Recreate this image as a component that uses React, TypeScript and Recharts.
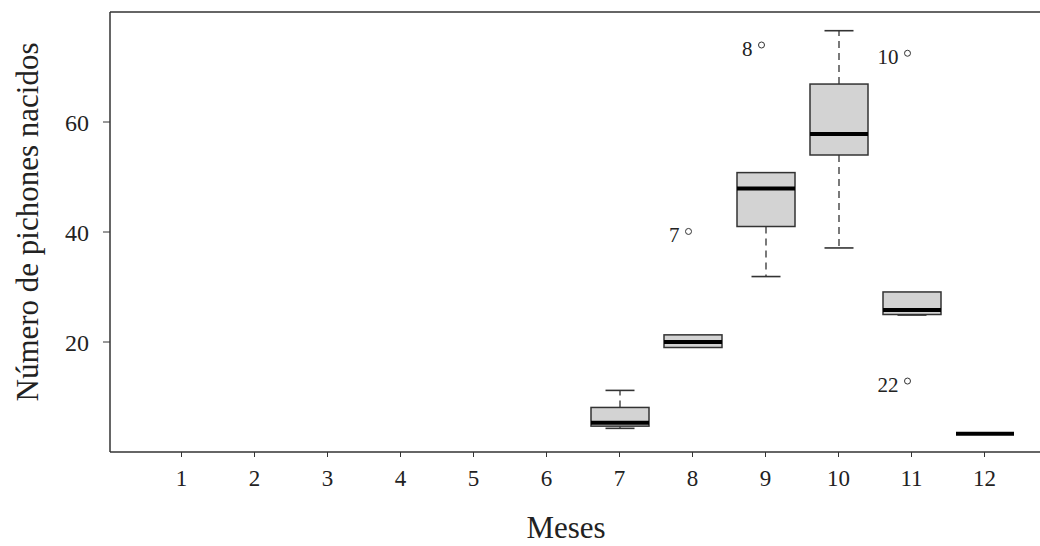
import { ComposedChart, Bar, Scatter, XAxis, YAxis, ReferenceLine } from 'recharts';

const FONT = '"Liberation Serif", "Times New Roman", serif';

const months = ['1', '2', '3', '4', '5', '6', '7', '8', '9', '10', '11', '12'];
const lowWhisker = [null, null, null, null, null, null, 4.3, 19.0, 31.9, 37.1, 24.9, 3.3];
const lowerQuartile = [null, null, null, null, null, null, 4.7, 19.0, 41.0, 54.0, 25.0, 3.3];
const medians = [null, null, null, null, null, null, 5.3, 20.0, 47.9, 57.8, 25.8, 3.3];
const upperQuartile = [null, null, null, null, null, null, 8.1, 21.3, 50.8, 66.9, 29.1, 3.3];
const highWhisker = [null, null, null, null, null, null, 11.2, 21.3, 50.8, 76.6, 29.1, 3.3];

const outlierMonths = ['8', '9', '11', '11'];
const outlierValues = [40.1, 74.0, 72.5, 12.9];
const outlierLabels = ['7', '8', '10', '22'];

const yTicks = [20, 40, 60];
const yMax = 80;

const rows = months.map((m, i) => {
  const row: any = {
    month: m,
    lo: lowWhisker[i],
    q1: lowerQuartile[i],
    med: medians[i],
    q3: upperQuartile[i],
    hi: highWhisker[i],
    out1: null,
    out1Label: null,
    out2: null,
    out2Label: null,
  };
  outlierMonths.forEach((om, j) => {
    if (om !== m) return;
    if (row.out1 == null) {
      row.out1 = outlierValues[j];
      row.out1Label = outlierLabels[j];
    } else {
      row.out2 = outlierValues[j];
      row.out2Label = outlierLabels[j];
    }
  });
  return row;
});

function BoxShape(props: any) {
  const { x, y, width, height, payload } = props;
  if (!payload || payload.hi == null) return <g />;
  const base = y + height;
  const k = payload.hi > 0 ? height / payload.hi : 0;
  const py = (v: number) => base - v * k;
  const cx = x + width / 2;
  const cap = width / 4;
  const stroke = '#333';
  return (
    <g>
      {payload.hi > payload.q3 && (
        <g>
          <line x1={cx} x2={cx} y1={py(payload.q3)} y2={py(payload.hi)} stroke={stroke} strokeWidth={1.3} strokeDasharray="7 5" />
          <line x1={cx - cap} x2={cx + cap} y1={py(payload.hi)} y2={py(payload.hi)} stroke={stroke} strokeWidth={1.6} />
        </g>
      )}
      {payload.lo < payload.q1 && (
        <g>
          <line x1={cx} x2={cx} y1={py(payload.q1)} y2={py(payload.lo)} stroke={stroke} strokeWidth={1.3} strokeDasharray="7 5" />
          <line x1={cx - cap} x2={cx + cap} y1={py(payload.lo)} y2={py(payload.lo)} stroke={stroke} strokeWidth={1.6} />
        </g>
      )}
      <rect
        x={x}
        y={py(payload.q3)}
        width={width}
        height={Math.max(0, py(payload.q1) - py(payload.q3))}
        fill="#d3d3d3"
        stroke={stroke}
        strokeWidth={1.5}
      />
      <line x1={x} x2={x + width} y1={py(payload.med)} y2={py(payload.med)} stroke="#000" strokeWidth={4} />
    </g>
  );
}

function makeOutlier(valueKey: string, labelKey: string) {
  return (props: any) => {
    const { cx, cy, payload } = props;
    if (!payload || payload[valueKey] == null) return <g />;
    return (
      <g>
        <circle cx={cx - 4} cy={cy} r={3} fill="none" stroke="#333" strokeWidth={1} />
        <text x={cx - 13} y={cy + 11} textAnchor="end" fontFamily={FONT} fontSize={21} fill="#222">
          {payload[labelKey]}
        </text>
      </g>
    );
  };
}

export default function App() {
  const axisLine = { stroke: '#333', strokeWidth: 1.5 };
  return (
    <div style={{ position: 'absolute', left: 0, top: 0, width: 1040, height: 546, overflow: 'hidden', background: '#fff' }}>
      <ComposedChart width={1070} height={546} data={rows} margin={{ top: 12, right: 14, bottom: 0, left: 0 }}>
        <XAxis
          dataKey="month"
          type="category"
          interval={0}
          padding={{ left: 35, right: 35 }}
          height={94}
          tickSize={5}
          tickMargin={13}
          axisLine={axisLine}
          tickLine={{ stroke: '#333' }}
          tick={{ fontFamily: FONT, fontSize: 23, fill: '#222' }}
          label={{
            content: (p: any) => {
              const vb = p.viewBox || {};
              return (
                <text x={vb.x + vb.width / 2 - 17} y={538} textAnchor="middle" fontFamily={FONT} fontSize={31} fill="#222">
                  Meses
                </text>
              );
            },
          }}
        />
        <YAxis
          type="number"
          domain={[0, yMax]}
          ticks={yTicks}
          width={110}
          tickSize={7}
          tickMargin={14}
          axisLine={axisLine}
          tickLine={{ stroke: '#333' }}
          tick={{ fontFamily: FONT, fontSize: 24, fill: '#222' }}
          label={{
            content: () => (
              <text x={38} y={222} transform="rotate(-90 38 222)" textAnchor="middle" fontFamily={FONT} fontSize={31} fill="#222">
                Número de pichones nacidos
              </text>
            ),
          }}
        />
        <ReferenceLine y={yMax} stroke="#333" strokeWidth={1.5} ifOverflow="visible" />
        <Bar dataKey="hi" barSize={58} isAnimationActive={false} shape={BoxShape} />
        <Scatter dataKey="out1" isAnimationActive={false} shape={makeOutlier('out1', 'out1Label')} />
        <Scatter dataKey="out2" isAnimationActive={false} shape={makeOutlier('out2', 'out2Label')} />
      </ComposedChart>
    </div>
  );
}
